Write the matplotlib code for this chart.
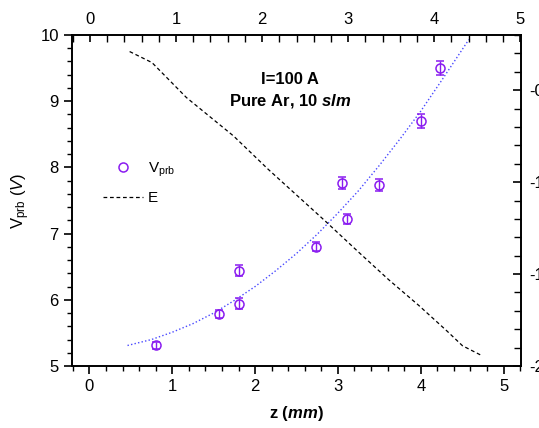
import matplotlib
matplotlib.use("Agg")
import matplotlib.pyplot as plt
from matplotlib.lines import Line2D
from matplotlib.ticker import MultipleLocator, FormatStrFormatter

plt.rcParams['font.family'] = ['Liberation Sans', 'DejaVu Sans']
plt.rcParams['mathtext.fontset'] = 'custom'
plt.rcParams['mathtext.rm'] = 'Liberation Sans'
plt.rcParams['mathtext.it'] = 'Liberation Sans:italic'
plt.rcParams['mathtext.bf'] = 'Liberation Sans:bold'
plt.rcParams['mathtext.bfit'] = 'Liberation Sans:italic:bold'

# probe voltage measurements (bottom / left axes)
z_prb = [0.81, 1.57, 1.80, 1.80, 2.74, 3.11, 3.05, 3.50, 4.00, 4.23]
v_prb = [5.31, 5.78, 5.94, 6.44, 6.80, 7.22, 7.77, 7.73, 8.70, 9.50]
v_err = [0.05, 0.06, 0.08, 0.08, 0.07, 0.08, 0.09, 0.09, 0.10, 0.10]

# dotted fit through probe voltage
z_fit = [0.46, 0.75, 1.0, 1.25, 1.5, 1.75, 2.0, 2.25, 2.5, 2.75, 3.0, 3.25, 3.5, 3.75, 4.0, 4.25, 4.58]
v_fit = [5.31, 5.40, 5.51, 5.64, 5.80, 5.99, 6.20, 6.44, 6.70, 6.99, 7.31, 7.65, 8.03, 8.43, 8.85, 9.31, 9.93]

# E field curve (top / right axes)
z_e = [0.46, 0.72, 1.12, 1.67, 2.07, 2.73, 3.12, 3.47, 3.82, 4.15, 4.33, 4.54]
e_val = [-0.29, -0.35, -0.54, -0.75, -0.93, -1.21, -1.38, -1.53, -1.67, -1.81, -1.89, -1.94]

purple = '#8a1cf0'
blue = '#4a4aff'

fig = plt.figure(figsize=(5.39, 4.28), dpi=100)
rect = [72/539, 1-366/428, 449/539, 331/428]
ax = fig.add_axes(rect)
ax2 = fig.add_axes(rect, frameon=False)

ax.plot(z_fit, v_fit, color=blue, ls=(0, (1, 1.6)), lw=1.0)
ax.errorbar(z_prb, v_prb, yerr=v_err, fmt='o', mfc='none', mec=purple, ecolor=purple,
            ms=6.5, mew=1.1, capsize=3, elinewidth=1.0, capthick=1.0)

ax.set_xlim(-0.21, 5.21)
ax.set_ylim(5, 10)
ax.xaxis.set_major_locator(MultipleLocator(1))
ax.xaxis.set_minor_locator(MultipleLocator(0.2))
ax.yaxis.set_major_locator(MultipleLocator(1))
ax.yaxis.set_minor_locator(MultipleLocator(0.2))
ax.tick_params(which='major', direction='out', length=6, width=1.2, labelsize=12)
ax.tick_params(which='minor', direction='out', length=3.5, width=1.0)
for s in ax.spines.values():
    s.set_linewidth(1.4)

ax.set_xlabel(r'z ($\mathbfit{mm}$)', fontsize=12, fontweight='bold', labelpad=7)
ax.set_ylabel(r'V$_{\mathrm{prb}}$ ($\it{V}$)', fontsize=12, labelpad=6)

# E on top / right axes
ax2.plot(z_e, e_val, color='black', ls=(0, (3, 2.2)), lw=0.9)
ax2.set_xlim(-0.21, 5.01)
ax2.set_ylim(-2.0, -0.2)
ax2.xaxis.tick_top()
ax2.yaxis.tick_right()
ax2.xaxis.set_major_locator(MultipleLocator(1))
ax2.xaxis.set_minor_locator(MultipleLocator(0.2))
ax2.yaxis.set_major_locator(MultipleLocator(0.5))
ax2.yaxis.set_minor_locator(MultipleLocator(0.1))
ax2.yaxis.set_major_formatter(FormatStrFormatter('%.1f'))
ax2.tick_params(axis='x', which='major', direction='in', length=5, width=1.2, labelsize=12, pad=6)
ax2.tick_params(axis='x', which='minor', direction='in', length=5, width=1.0)
ax2.tick_params(axis='y', which='major', direction='in', length=6, width=1.2, labelsize=12, pad=6)
ax2.tick_params(axis='y', which='minor', direction='in', length=5, width=1.0)

ax.text(0.486, 0.865, 'I=100 A', transform=ax.transAxes, ha='center', va='center',
        fontsize=12, fontweight='bold')
ax.text(0.486, 0.80, r'Pure Ar, 10 $\mathbfit{slm}$', transform=ax.transAxes, ha='center',
        va='center', fontsize=12, fontweight='bold')

handles = [Line2D([], [], ls='none', marker='o', mfc='none', mec=purple, ms=6.5, mew=1.1),
           Line2D([], [], color='black', ls=(0, (3, 2.2)), lw=0.9)]
ax.legend(handles, [r'V$_{\mathrm{prb}}$', 'E'], loc='upper left', bbox_to_anchor=(0.07, 0.62),
          frameon=False, fontsize=11, handlelength=2.6, handletextpad=0.3,
          borderaxespad=0, borderpad=0, labelspacing=0.8)

fig.savefig('out.png', dpi=100)
